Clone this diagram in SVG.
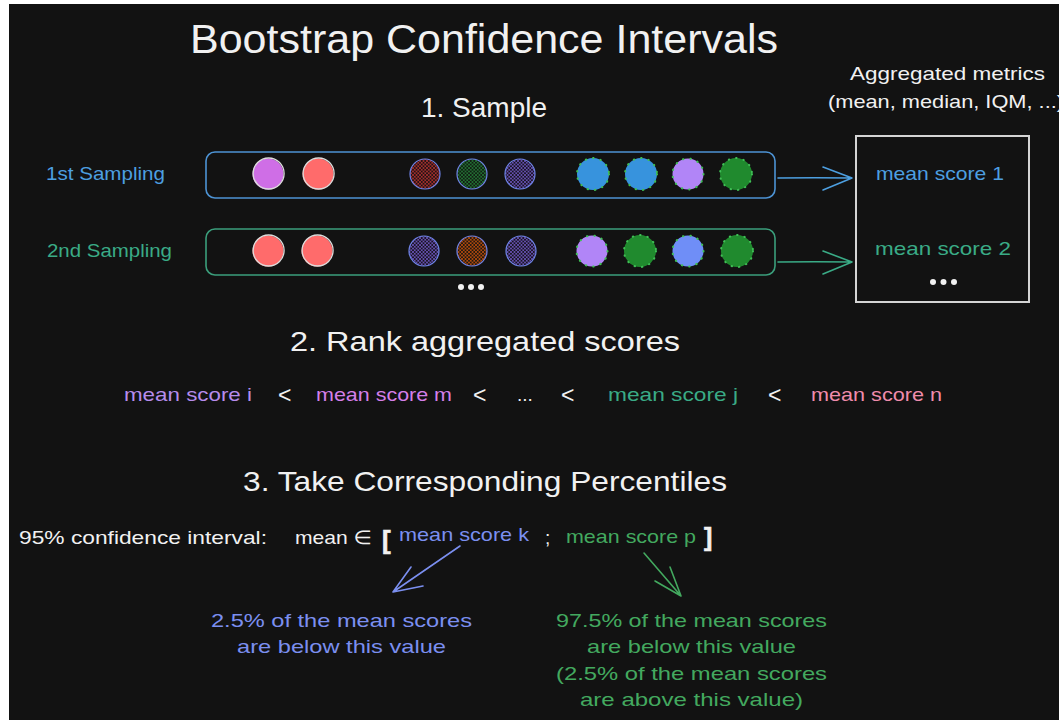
<svg xmlns="http://www.w3.org/2000/svg" width="1060" height="720" viewBox="0 0 1060 720">
  <defs>
    <style>
      text { font-family: "Liberation Sans", "DejaVu Sans", sans-serif; }
      .white { fill: #f1f1f1; }
      .head { font-size: 28px; fill: #f1f1f1; }
      .body { font-size: 19px; }
      .lt { font-size: 23px; fill: #f1f1f1; }
      .blue { fill: #4d9fe0; }
      .teal { fill: #3aab86; }
      .lav { fill: #b68cec; }
      .pinkv { fill: #d57fe9; }
      .pink { fill: #f08cac; }
      .peri { fill: #7b8ff0; }
      .green { fill: #43a95f; }
      .row1 { fill: none; stroke: #4d93d4; stroke-width: 1.6; }
      .row2 { fill: none; stroke: #3b9f7c; stroke-width: 1.6; }
      .solid-w { stroke: #dcdcdc; stroke-width: 1.3; }
      .hatch-o { stroke: #6f84e8; stroke-width: 1.2; }
      .dotted { stroke: #3fbf55; stroke-width: 2; stroke-dasharray: 0.5 7; stroke-linecap: round; }
      .conn { fill: none; stroke-width: 1.6; stroke-linecap: round; stroke-linejoin: round; }
    </style>
    <!-- cross-hatch fills for the hatched samples -->
    <pattern id="hRed" width="3.5" height="3.5" patternUnits="userSpaceOnUse">
      <rect width="3.5" height="3.5" fill="#1e1414"/>
      <path d="M0,0 L3.5,3.5 M3.5,0 L0,3.5" stroke="#c83434" stroke-width="0.7"/>
    </pattern>
    <pattern id="hGreen" width="3.5" height="3.5" patternUnits="userSpaceOnUse">
      <rect width="3.5" height="3.5" fill="#121a13"/>
      <path d="M0,0 L3.5,3.5 M3.5,0 L0,3.5" stroke="#25893a" stroke-width="0.7"/>
    </pattern>
    <pattern id="hPurple" width="3.5" height="3.5" patternUnits="userSpaceOnUse">
      <rect width="3.5" height="3.5" fill="#17141f"/>
      <path d="M0,0 L3.5,3.5 M3.5,0 L0,3.5" stroke="#7b5fd8" stroke-width="0.7"/>
    </pattern>
    <pattern id="hOrange" width="3.5" height="3.5" patternUnits="userSpaceOnUse">
      <rect width="3.5" height="3.5" fill="#1e1610"/>
      <path d="M0,0 L3.5,3.5 M3.5,0 L0,3.5" stroke="#d5580c" stroke-width="0.7"/>
    </pattern>
  </defs>

  <!-- page and dark canvas -->
  <rect width="1060" height="720" fill="#ffffff"/>
  <rect x="9" y="4" width="1050" height="716" fill="#121212"/>

  <g id="title">
    <text x="190" y="53" style="font-size:40px" class="white" textLength="588" lengthAdjust="spacingAndGlyphs">Bootstrap Confidence Intervals</text>
  </g>

  <g id="step1-heading">
    <text x="421" y="117" class="head" textLength="126" lengthAdjust="spacingAndGlyphs">1. Sample</text>
  </g>

  <g id="aggregated-label">
    <text x="850" y="80" class="body white" textLength="195" lengthAdjust="spacingAndGlyphs">Aggregated metrics</text>
    <text x="828" y="108" class="body white" textLength="236" lengthAdjust="spacingAndGlyphs">(mean, median, IQM, ...)</text>
  </g>

  <!-- first bootstrap sample -->
  <g id="sampling-1">
    <text x="46" y="180" class="body blue" textLength="119" lengthAdjust="spacingAndGlyphs">1st Sampling</text>
    <rect x="206" y="152" width="569" height="46" rx="9" class="row1"/>
    <circle cx="268" cy="174" r="15.5" fill="#cf6ee6"/>
    <circle cx="268.6" cy="173.5" r="15.5" fill="none" class="solid-w"/>
    <circle cx="318" cy="174" r="15.5" fill="#ff6b6b"/>
    <circle cx="318.6" cy="173.5" r="15.5" fill="none" class="solid-w"/>
    <circle cx="425" cy="174" r="15" fill="url(#hRed)" class="hatch-o"/>
    <circle cx="472" cy="174" r="15" fill="url(#hGreen)" class="hatch-o"/>
    <circle cx="520" cy="174" r="15" fill="url(#hPurple)" class="hatch-o"/>
    <circle cx="593" cy="174" r="16" fill="#3793dd" class="dotted"/>
    <circle cx="641" cy="174" r="16" fill="#3793dd" class="dotted"/>
    <circle cx="688" cy="174" r="15.5" fill="#b185f7" class="dotted"/>
    <circle cx="736" cy="174" r="16" fill="#208a2e" class="dotted"/>
  </g>

  <!-- second bootstrap sample -->
  <g id="sampling-2">
    <text x="47" y="257" class="body teal" textLength="125" lengthAdjust="spacingAndGlyphs">2nd Sampling</text>
    <rect x="206" y="229" width="569" height="46" rx="9" class="row2"/>
    <circle cx="268" cy="251" r="15.5" fill="#ff6b6b"/>
    <circle cx="268.6" cy="250.5" r="15.5" fill="none" class="solid-w"/>
    <circle cx="317" cy="251" r="15.5" fill="#ff6b6b"/>
    <circle cx="317.6" cy="250.5" r="15.5" fill="none" class="solid-w"/>
    <circle cx="424" cy="251" r="15" fill="url(#hPurple)" class="hatch-o"/>
    <circle cx="472" cy="251" r="15" fill="url(#hOrange)" class="hatch-o"/>
    <circle cx="521" cy="251" r="15" fill="url(#hPurple)" class="hatch-o"/>
    <circle cx="592" cy="251" r="15.5" fill="#b185f7" class="dotted"/>
    <circle cx="640" cy="251" r="16" fill="#208a2e" class="dotted"/>
    <circle cx="688" cy="251" r="15.5" fill="#6f8ef7" class="dotted"/>
    <circle cx="737" cy="251" r="16" fill="#208a2e" class="dotted"/>
  </g>

  <g id="more-samplings">
    <circle cx="461" cy="287" r="3" fill="#f1f1f1"/>
    <circle cx="471" cy="287" r="3" fill="#f1f1f1"/>
    <circle cx="481" cy="287" r="3" fill="#f1f1f1"/>
  </g>

  <!-- aggregated scores per sample -->
  <g id="scores-box">
    <rect x="856" y="136" width="173" height="166" fill="none" stroke="#d4d4d4" stroke-width="2"/>
    <text x="876" y="180" class="body blue" textLength="128" lengthAdjust="spacingAndGlyphs">mean score 1</text>
    <text x="875" y="255" class="body teal" textLength="136" lengthAdjust="spacingAndGlyphs">mean score 2</text>
    <circle cx="933" cy="282" r="3" fill="#f1f1f1"/>
    <circle cx="943.5" cy="282" r="3" fill="#f1f1f1"/>
    <circle cx="954" cy="282" r="3" fill="#f1f1f1"/>
  </g>

  <g id="step2-heading">
    <text x="290" y="351" class="head" textLength="390" lengthAdjust="spacingAndGlyphs">2. Rank aggregated scores</text>
  </g>

  <g id="ranking">
    <text x="124" y="401" class="body lav" textLength="128" lengthAdjust="spacingAndGlyphs">mean score i</text>
    <text x="278" y="403" class="lt">&lt;</text>
    <text x="316" y="401" class="body pinkv" textLength="136" lengthAdjust="spacingAndGlyphs">mean score m</text>
    <text x="473" y="403" class="lt">&lt;</text>
    <text x="517" y="401" class="body white">...</text>
    <text x="561" y="403" class="lt">&lt;</text>
    <text x="608" y="401" class="body teal" textLength="130" lengthAdjust="spacingAndGlyphs">mean score j</text>
    <text x="768" y="403" class="lt">&lt;</text>
    <text x="811" y="401" class="body pink" textLength="131" lengthAdjust="spacingAndGlyphs">mean score n</text>
  </g>

  <g id="step3-heading">
    <text x="243" y="491" class="head" textLength="484" lengthAdjust="spacingAndGlyphs">3. Take Corresponding Percentiles</text>
  </g>

  <g id="confidence-interval">
    <text x="19" y="544" class="body white" textLength="248" lengthAdjust="spacingAndGlyphs">95% confidence interval:</text>
    <text x="295" y="544" class="body white" textLength="77" lengthAdjust="spacingAndGlyphs">mean ∈</text>
    <text x="382" y="549" style="font-size:26px;font-weight:bold;stroke:#f1f1f1;stroke-width:0.6" class="white">[</text>
    <text x="399" y="541" class="body peri" textLength="130" lengthAdjust="spacingAndGlyphs">mean score k</text>
    <text x="545" y="544" class="body white">;</text>
    <text x="566" y="543" class="body green" textLength="130" lengthAdjust="spacingAndGlyphs">mean score p</text>
    <text x="704" y="546" style="font-size:25px;font-weight:bold;stroke:#f1f1f1;stroke-width:0.6" class="white">]</text>
  </g>

  <g id="lower-note">
    <text x="211" y="627" class="body peri" textLength="261" lengthAdjust="spacingAndGlyphs">2.5% of the mean scores</text>
    <text x="237" y="653" class="body peri" textLength="209" lengthAdjust="spacingAndGlyphs">are below this value</text>
  </g>

  <g id="upper-note">
    <text x="556" y="627" class="body green" textLength="271" lengthAdjust="spacingAndGlyphs">97.5% of the mean scores</text>
    <text x="587" y="653" class="body green" textLength="209" lengthAdjust="spacingAndGlyphs">are below this value</text>
    <text x="556" y="680" class="body green" textLength="271" lengthAdjust="spacingAndGlyphs">(2.5% of the mean scores</text>
    <text x="580" y="706" class="body green" textLength="223" lengthAdjust="spacingAndGlyphs">are above this value)</text>
  </g>

  <!-- connectors -->
  <g id="connectors">
    <path class="conn" stroke="#4d9fe0" d="M778,178 Q815,177.5 852,178 M823,167 L852,178 L823,190"/>
    <path class="conn" stroke="#3aab86" d="M778,262 Q815,261.5 852,262 M823,251 L852,262 L823,274"/>
    <path class="conn" stroke="#7b8ff0" d="M460,546 L393,592 M411,567 L393,592 L423,586"/>
    <path class="conn" stroke="#43a95f" d="M644,553 L681,596 M655,581 L681,596 L670,567"/>
  </g>
</svg>
